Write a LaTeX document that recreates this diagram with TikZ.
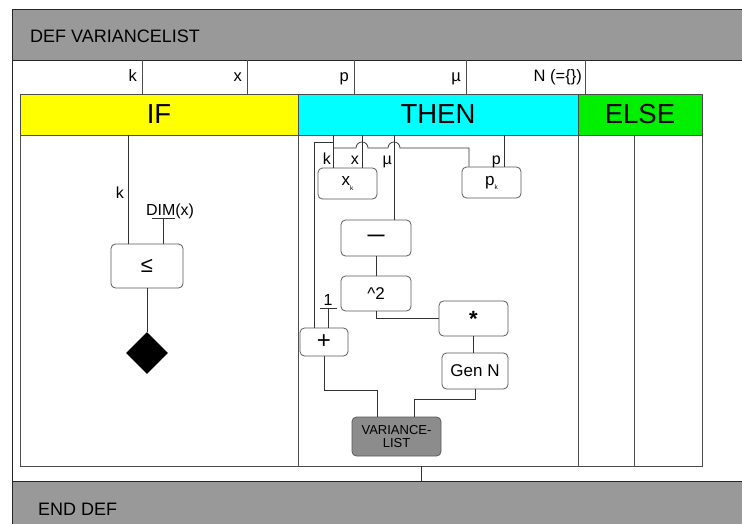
\documentclass[tikz,border=0pt]{standalone}
\usepackage{fontspec}
\setmainfont{Liberation Sans}
\usetikzlibrary{positioning,calc,shapes.geometric}

\definecolor{barGray}{HTML}{999999}
\definecolor{listGray}{HTML}{8C8C8C}
\definecolor{ifYellow}{HTML}{FFFF00}
\definecolor{thenCyan}{HTML}{00FFFF}
\definecolor{elseGreen}{HTML}{00F000}

\begin{document}
\begin{tikzpicture}[x=1pt,y=-1pt,
		frame/.style={draw=black!85,line width=0.8pt},
		cell/.style={draw=black!70,line width=0.8pt,inner sep=0pt,outer sep=0pt},
		hdcell/.style={cell,minimum height=41pt,font=\fontsize{27.5}{29}\selectfont},
		wire/.style={draw=black!80,line width=0.75pt},
		fn/.style={draw=black!65,line width=0.8pt,rounded corners=4.5pt,fill=white,inner sep=0pt,font=\fontsize{17}{19}\selectfont},
		parlab/.style={font=\fontsize{16.5}{18}\selectfont,anchor=base east,inner sep=0pt},
		inlab/.style={font=\fontsize{16}{18}\selectfont,inner sep=0pt},
		bartxt/.style={font=\fontsize{18}{20}\selectfont,anchor=west,inner sep=0pt}
		]
		\useasboundingbox (0,0) rectangle (742,524);
		\clip (0,0) rectangle (742,524);
		
		% definition bars
		\fill[barGray] (12,9) rectangle (745,60);
		\fill[barGray] (12,481) rectangle (745,530);
		\draw[frame] (745,9) -- (12,9) -- (12,530);
		\draw[frame] (12,60) -- (745,60);
		\draw[frame] (12,481) -- (745,481);
		\node[bartxt] (defname) at (30,36) {DEF VARIANCELIST};
		\node[bartxt] (enddef) at (38,509) {END DEF};
		
		% parameters
		\foreach \x/\lab in {142/k, 247/x, 354/p, 466/µ} {
			\draw[cell] (\x,60) -- (\x,94);
			\node[parlab] (par-\x) at (\x-5,82) {\lab};
		}
		\draw[cell] (585,60) -- (585,94);
		\node[parlab] (par-585) at (582,82) {N (=\{\})};
		
		% header and body cells
		\node[hdcell,fill=ifYellow,minimum width=278pt,anchor=north west] (ifhd) at (20,94) {IF};
		\node[hdcell,fill=thenCyan,minimum width=280pt,anchor=north west] (thenhd) at (298,94) {THEN};
		\node[hdcell,fill=elseGreen,minimum width=124pt,anchor=north west] (elsehd) at (578,94) {ELSE};
		\node[cell,minimum width=278pt,minimum height=331pt,anchor=north west] (ifbody) at (20,135) {};
		\node[cell,minimum width=280pt,minimum height=331pt,anchor=north west] (thenbody) at (298,135) {};
		\node[cell,minimum width=56pt,minimum height=331pt,anchor=north west] (elseA) at (578,135) {};
		\node[cell,minimum width=68pt,minimum height=331pt,anchor=north west] (elseB) at (634,135) {};
		
		% IF: k <= DIM(x)
		\node[fn,minimum width=72pt,minimum height=44pt,font=\fontsize{22}{24}\selectfont] (le) at (147,266) {≤};
		\node[diamond,fill=black,minimum size=42pt,inner sep=0pt] (cond) at (147,353) {};
		\coordinate (ifk) at (128,135);
		\coordinate (dimbar) at (163,218);
		\draw[wire] (ifk) -- (ifk |- le.north);
		\node[inlab,anchor=base east] (ifklab) at (124,199) {k};
		\node[inlab,anchor=base] (dimx) at (170,215) {DIM(x)};
		\draw[wire] ([xshift=-11.5pt]dimbar) -- ([xshift=11.5pt]dimbar);
		\draw[wire] (dimbar) -- (dimbar |- le.north);
		\draw[wire] (le.south) -- (cond.north);
		
		% THEN: boxes
		\node[fn,minimum width=59pt,minimum height=31pt] (xk) at (347.5,183.5) {x\raisebox{-0.45ex}{\fontsize{6.5}{7}\selectfont k}};
		\node[fn,minimum width=59pt,minimum height=31pt] (pk) at (491.5,182.5) {p\raisebox{-0.45ex}{\fontsize{6.5}{7}\selectfont k}};
		\node[fn,minimum width=70pt,minimum height=36pt,font=\fontsize{17}{19}\selectfont\bfseries] (minus) at (376,238) {—};
		\node[fn,minimum width=70pt,minimum height=35pt] (sq) at (376,293.5) {\textasciicircum 2};
		\node[fn,minimum width=69pt,minimum height=35pt,font=\fontsize{22}{24}\selectfont\bfseries] (mul) at (473.5,318.5) {\raisebox{-0.3em}{*}};
		\node[fn,minimum width=66pt,minimum height=36pt] (genn) at (475,371) {Gen N};
		\node[fn,minimum width=48pt,minimum height=28pt,font=\fontsize{24}{26}\selectfont] (plus) at (324,342) {+};
		\node[fn,fill=listGray,minimum width=89pt,minimum height=39pt,align=center,font=\fontsize{13}{13.5}\selectfont] (vl) at (396.5,436.5) {VARIANCE-\\LIST};
		
		% THEN: inputs
		\coordinate (tk) at (333,135);
		\coordinate (tx) at (362,135);
		\coordinate (tmu) at (394,135);
		\coordinate (tp) at (504,135);
		\coordinate (onebar) at (328,308);
		\draw[wire] (tk) -- (tk |- xk.north);
		\draw[wire] (tx) -- (tx |- xk.north);
		\draw[wire] (tmu) -- (tmu |- minus.north);
		\draw[wire] (tp) -- (tp |- pk.north);
		\draw[wire] ($(tk)+(0,7)$) -| ($(plus.north)+(-10,0)$);
		\draw[wire] ($(tk)+(0,13)$) -- ($(tx)+(-6,13)$) arc[start angle=180,end angle=360,radius=6]
		-- ($(tmu)+(-6,13)$) arc[start angle=180,end angle=360,radius=6]
		-| ($(pk.north)+(-22.5,0)$);
		\node[inlab,anchor=base east] (klab) at ($(tk)+(-2,30)$) {k};
		\node[inlab,anchor=base east] (xlab) at ($(tx)+(-3,30)$) {x};
		\node[inlab,anchor=base east] (mulab) at ($(tmu)+(-2,30)$) {µ};
		\node[inlab,anchor=base east] (plab) at ($(tp)+(-3,30)$) {p};
		\node[inlab,anchor=base] (one) at (328,305) {1};
		\draw[wire] ([xshift=-8.5pt]onebar) -- ([xshift=8.5pt]onebar);
		\draw[wire] (onebar) -- (onebar |- plus.north);
		
		% THEN: data flow
		\draw[wire] ($(xk.south)+(5.5,0)$) -- ($(xk.south)+(5.5,0)$ |- minus.north);
		\draw[wire] (minus) -- (sq);
		\draw[wire] (sq.south) |- (mul.west);
		\draw[wire] ($(pk.south)+(-2.5,0)$) -- ($(pk.south)+(-2.5,0)$ |- mul.north);
		\draw[wire] (mul.south) -- (mul.south |- genn.north);
		\draw[wire] (genn.south) -- ++(0,10) -| ($(vl.north)+(17.5,0)$);
		\draw[wire] (plus.south) -- ++(0,34) -| ($(vl.north)+(-19.5,0)$);
		\draw[wire] ($(vl.south)+(-2.5,0)$) -- ($(vl.south)+(-2.5,0)$ |- thenbody.south);
		\coordinate (outlink) at (421,466);
		\draw[wire] (outlink) -- ++(0,15);
	\end{tikzpicture}
\end{document}
